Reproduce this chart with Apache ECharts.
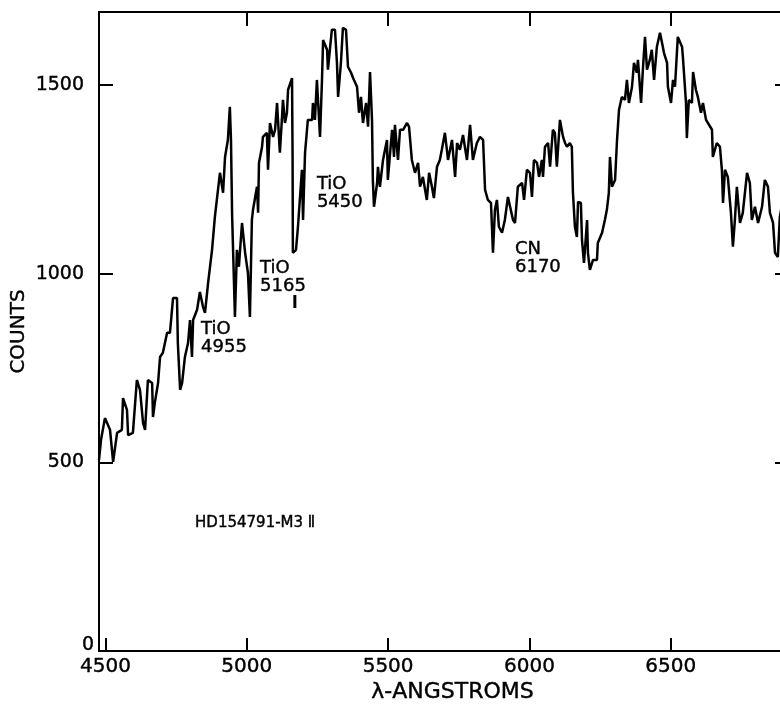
<!DOCTYPE html>
<html>
<head>
<meta charset="utf-8">
<script src="https://cdn.jsdelivr.net/npm/echarts@6/dist/echarts.min.js"></script>
<style>
html,body{margin:0;padding:0;background:#fff;}
#chart{width:780px;height:706px;}
</style>
</head>
<body>
<div id="chart"></div>
<script>
// Wavelength (Angstrom) of each traced point of the spectrum
const wavelength = [
4477,4484,4498,4516,4527,4541,4558,4562,4576,4580,4597,4611,4622,4633,4640,4650,4665,4668,4675,4686,
4693,4703,4718,4728,4739,4753,4756,4764,4771,4781,4792,4799,4806,4810,4824,4834,4845,4852,4863,4877,
4887,4898,4905,4916,4923,4933,4940,4944,4948,4958,4965,4972,4983,4994,5004,5011,5018,5022,5036,5040,
5043,5054,5057,5071,5075,5082,5093,5100,5107,5117,5124,5128,5135,5142,5146,5160,5162,5163,5174,5181,
5195,5199,5206,5213,5216,5231,5234,5241,5248,5259,5266,5270,5284,5287,5301,5312,5319,5323,5333,5340,
5351,5358,5369,5376,5390,5397,5404,5411,5422,5429,5436,5443,5446,5450,5461,5464,5471,5482,5489,5496,
5499,5514,5521,5524,5535,5542,5553,5567,5574,5584,5595,5606,5613,5623,5637,5645,5655,5662,5673,5683,
5690,5701,5712,5726,5737,5744,5754,5765,5779,5790,5800,5814,5825,5836,5843,5853,5864,5871,5878,5885,
5892,5903,5913,5924,5931,5942,5949,5959,5974,5981,5991,6002,6009,6016,6027,6034,6044,6048,6055,6066,
6073,6083,6090,6097,6108,6119,6126,6133,6143,6150,6154,6161,6168,6172,6182,6186,6193,6204,6207,6214,
6225,6239,6242,6257,6267,6274,6281,6285,6292,6303,6310,6317,6327,6338,6345,6352,6363,6370,6380,6384,
6395,6402,6409,6416,6426,6433,6441,6451,6462,6472,6476,6487,6490,6501,6508,6515,6525,6540,6543,6554,
6557,6564,6575,6579,6589,6596,6607,6614,6625,6632,6646,6649,6663,6674,6681,6685,6692,6702,6713,6720,
6727,6734,6745,6755,6770,6780,6787,6798,6809,6823,6833,6844,6851,6862,6869,6879,6886,6897
];
// Counts at each traced point
const counts = [
506,559,617,586,501,578,586,670,639,572,578,718,692,604,586,718,710,620,660,710,
779,790,843,843,935,935,816,692,710,779,816,877,779,877,904,951,912,896,975,1063,
1150,1222,1267,1214,1309,1354,1442,1354,1155,885,1063,1018,1134,1055,1002,885,1142,1169,1230,1161,
1293,1336,1362,1373,1275,1399,1362,1381,1452,1320,1407,1460,1399,1426,1487,1518,1301,1055,1063,1124,
1275,1142,1320,1381,1407,1407,1452,1407,1513,1362,1513,1619,1593,1540,1646,1646,1558,1468,1558,1651,
1646,1548,1532,1518,1495,1426,1468,1399,1452,1389,1534,1407,1248,1177,1240,1283,1230,1301,1328,1354,
1248,1381,1309,1394,1301,1381,1381,1399,1389,1301,1267,1293,1230,1256,1195,1267,1230,1200,1283,1301,
1328,1373,1301,1354,1256,1346,1328,1367,1301,1394,1301,1346,1362,1354,1222,1195,1187,1055,1169,1195,
1124,1108,1142,1203,1203,1142,1134,1230,1240,1195,1275,1267,1203,1301,1293,1256,1301,1256,1336,1346,
1283,1381,1373,1283,1407,1362,1346,1336,1346,1336,1214,1124,1097,1190,1187,1089,1028,1142,1055,1010,
1036,1036,1081,1108,1142,1169,1214,1309,1230,1248,1354,1434,1468,1460,1513,1452,1495,1558,1532,1566,
1452,1548,1627,1540,1566,1593,1513,1601,1638,1601,1585,1558,1495,1452,1513,1495,1627,1601,1574,1452,
1359,1460,1452,1534,1487,1468,1426,1452,1407,1407,1381,1309,1346,1336,1275,1187,1275,1256,1161,1071,
1142,1230,1134,1161,1267,1240,1142,1177,1134,1177,1248,1230,1161,1134,1055,1044,1150,1195
];
// Band-head marker below the TiO 5165 label
const markerWavelength = [5170, 5170];
const markerCounts = [909, 943];

// Axis ticks
const xTicks = [4500, 5000, 5500, 6000, 6500];
const xTopTicks = [5000, 5500, 6000, 6500];
const yTicks = [0, 500, 1000, 1500];
const yRightTicks = [500, 1000, 1500];

// Annotations (text, wavelength, counts of the text's top-left corner)
const noteText = ['TiO\n4955', 'TiO\n5165', 'TiO\n5450', 'CN\n6170'];
const noteX = [4838, 5047, 5248, 5949];
const noteY = [877, 1039, 1261, 1089];
const starText = 'HD154791-M3 Ⅱ';
const starX = 4817;
const starY = 364;

const X_MIN = 4477, X_MAX = 6922, Y_MIN = 0, Y_MAX = 1693;
const FONT = '"DejaVu Sans", sans-serif';

const spectrum = wavelength.map((w, i) => [w, counts[i]]);
const marker = markerWavelength.map((w, i) => [w, markerCounts[i]]);
const notes = noteText.map((t, i) => ({ value: [noteX[i], noteY[i]], text: t }));
notes.push({ value: [starX, starY], text: starText, star: true });

const plain = v => String(v);
const ink = { color: '#000', opacity: 1, fontFamily: FONT, textBorderColor: '#000', textBorderWidth: 0.4 };
const chart = echarts.init(document.getElementById('chart'), null, { renderer: 'canvas' });
const axisLine = { show: true, onZero: false, lineStyle: { color: '#000', width: 2 } };
chart.setOption({
  animation: false,
  backgroundColor: '#fff',
  grid: { left: 99, top: 12, right: -10, bottom: 55, containLabel: false, outerBoundsMode: 'none' },
  xAxis: [
    {
      type: 'value', position: 'bottom', min: X_MIN, max: X_MAX,
      axisLine: axisLine,
      axisTick: { show: true, inside: true, length: 13, customValues: xTicks, lineStyle: { color: '#000', width: 2 } },
      axisLabel: Object.assign({ show: true, customValues: xTicks, formatter: plain, margin: 6, fontSize: 20 }, ink),
      splitLine: { show: false },
      name: 'λ-ANGSTROMS', nameLocation: 'middle', nameGap: 30, nameMoveOverlap: false,
      nameTextStyle: Object.assign({ fontSize: 22, padding: [0, 0, 0, 16], verticalAlign: 'top' }, ink)
    },
    {
      type: 'value', position: 'top', min: X_MIN, max: X_MAX,
      axisLine: axisLine,
      axisTick: { show: true, inside: true, length: 14, customValues: xTopTicks, lineStyle: { color: '#000', width: 2 } },
      axisLabel: { show: false },
      splitLine: { show: false }
    }
  ],
  yAxis: [
    {
      type: 'value', position: 'left', min: Y_MIN, max: Y_MAX,
      axisLine: axisLine,
      axisTick: { show: true, inside: true, length: 14, customValues: yTicks, lineStyle: { color: '#000', width: 2 } },
      axisLabel: Object.assign({ show: true, customValues: yRightTicks, formatter: plain, margin: 15, fontSize: 19 }, ink),
      splitLine: { show: false },
      name: 'COUNTS', nameLocation: 'middle', nameGap: 70, nameRotate: 90, nameMoveOverlap: false,
      nameTextStyle: Object.assign({ fontSize: 20 }, ink)
    },
    {
      type: 'value', position: 'right', min: Y_MIN, max: Y_MAX,
      axisLine: axisLine,
      axisTick: { show: true, inside: true, length: 15, customValues: yRightTicks, lineStyle: { color: '#000', width: 2 } },
      axisLabel: { show: false },
      splitLine: { show: false }
    }
  ],
  series: [
    {
      type: 'line', data: spectrum, xAxisIndex: 0, yAxisIndex: 0,
      showSymbol: false, symbol: 'none',
      lineStyle: { color: '#000', width: 2.5 }, z: 3
    },
    {
      type: 'line', data: marker, xAxisIndex: 0, yAxisIndex: 0,
      showSymbol: false, symbol: 'none',
      lineStyle: { color: '#000', width: 3 }, z: 3
    },
    {
      type: 'scatter', xAxisIndex: 0, yAxisIndex: 0,
      symbolSize: 0, itemStyle: { color: '#000' },
      data: notes.map(n => ({
        value: n.value,
        label: Object.assign({
          show: true, formatter: n.text, position: [0, 0], align: 'left', verticalAlign: 'top',
          fontSize: n.star ? 15 : 18, lineHeight: 18
        }, ink)
      })),
      silent: true, z: 4
    },
    {
      // the "0" tick label of the count axis, drawn beside the origin
      type: 'scatter', xAxisIndex: 0, yAxisIndex: 0, clip: false,
      symbolSize: 0, itemStyle: { color: '#000' },
      data: [{
        value: [X_MIN, yTicks[0]],
        label: Object.assign({
          show: true, formatter: plain(yTicks[0]), position: [0, 0], align: 'right', verticalAlign: 'middle',
          offset: [-5, -6], fontSize: 19
        }, ink)
      }],
      silent: true, z: 4
    }
  ]
});
</script>
</body>
</html>
